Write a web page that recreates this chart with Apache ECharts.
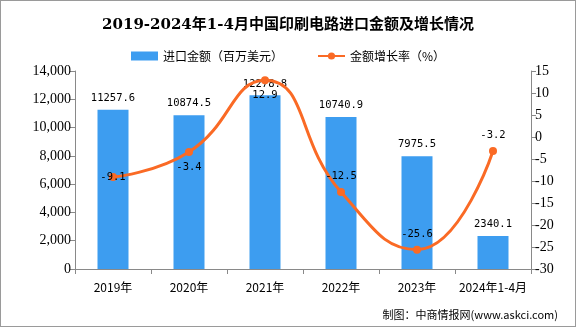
<!DOCTYPE html>
<html><head><meta charset="utf-8">
<script src="https://cdn.jsdelivr.net/npm/echarts@6/dist/echarts.min.js"></script>
<style>
html,body{margin:0;padding:0;background:#fff;}
#c{position:absolute;left:0;top:0;width:574px;height:325px;border:1px solid #9a9a9a;}
</style></head>
<body><div id="c"></div>
<script>
const categories = ['2019年','2020年','2021年','2022年','2023年','2024年1-4月'];
const importValues = [11257.6, 10874.5, 12278.8, 10740.9, 7975.5, 2340.1];
const growthRates = [-9.1, -3.4, 12.9, -12.5, -25.6, -3.2];
const leftTicks = {min:0, max:14000, interval:2000};
const rightTicks = {min:-30, max:15, interval:5};

const growthLabelPos = ['inside','bottom','bottom','top','top','top'];

const chart = echarts.init(document.getElementById('c'));
const numFont = "'Liberation Serif','Times New Roman',serif";
const cjk = "'Noto Sans CJK SC',sans-serif";
const mono = "'DejaVu Sans Mono','Liberation Mono',monospace";

chart.setOption({
  animation:false,
  title:{text:'2019-2024年1-4月中国印刷电路进口金额及增长情况', left:'center', top:12,
    textStyle:{fontFamily:"'DejaVu Serif','Noto Sans CJK SC',serif", fontSize:15, fontWeight:'bold', color:'#000'}},
  legend:{top:44, left:'center', itemGap:34, itemWidth:27, itemHeight:9,
    textStyle:{fontFamily:cjk, fontSize:12, color:'#000'},
    data:[{name:'进口金额（百万美元）', icon:'rect'},{name:'金额增长率（%）'}]},
  grid:{left:74, right:44, top:70, bottom:57},
  xAxis:{type:'category', data:categories, boundaryGap:true,
    axisLine:{lineStyle:{color:'#898989'}},
    axisTick:{show:true, alignWithLabel:false, length:5, lineStyle:{color:'#898989'}},
    axisLabel:{color:'#000', fontFamily:cjk, fontSize:12, margin:12, interval:0}},
  yAxis:[
    {type:'value', min:leftTicks.min, max:leftTicks.max, interval:leftTicks.interval, splitLine:{show:false},
      axisLine:{show:true, lineStyle:{color:'#898989'}}, axisTick:{show:true, length:5, lineStyle:{color:'#898989'}},
      axisLabel:{color:'#000', fontFamily:numFont, fontSize:14, margin:4}},
    {type:'value', min:rightTicks.min, max:rightTicks.max, interval:rightTicks.interval, splitLine:{show:false},
      axisLine:{show:true, lineStyle:{color:'#898989'}}, axisTick:{show:true, length:5, lineStyle:{color:'#898989'}},
      axisLabel:{color:'#000', fontFamily:numFont, fontSize:14, margin:4}}
  ],
  series:[
    {name:'进口金额（百万美元）', type:'bar', data:importValues, barWidth:31, yAxisIndex:0,
      itemStyle:{color:'#3d9df0'},
      label:{show:true, position:'top', color:'#000', fontFamily:mono, fontSize:10.5, distance:6}},
    {name:'金额增长率（%）', type:'line', yAxisIndex:1, smooth:0.5, symbol:'circle', symbolSize:8,
      data:growthRates.map((v,i)=>({value:v, label:{position:growthLabelPos[i]}})),
      lineStyle:{color:'#fa6a25', width:3}, itemStyle:{color:'#fa6a25'},
      label:{show:true, color:'#000', fontFamily:mono, fontSize:10.5, distance:6}}
  ],
  graphic:[{type:'text', right:17, top:308, style:{text:'制图：中商情报网(www.askci.com)', fontFamily:cjk, fontSize:11, fill:'#000'}}]
});
</script></body></html>
